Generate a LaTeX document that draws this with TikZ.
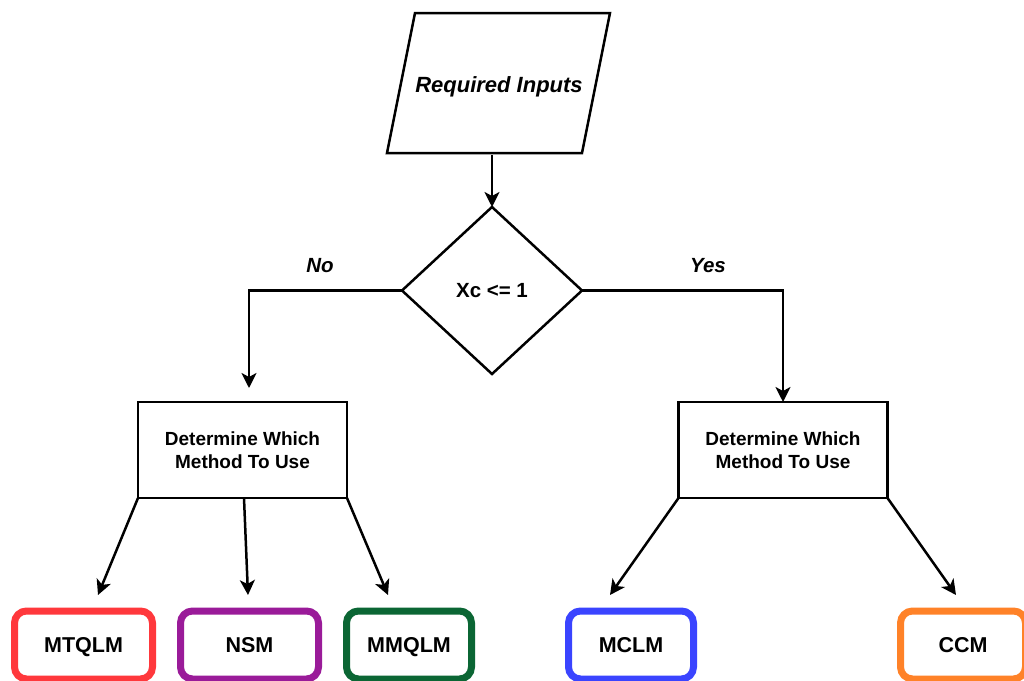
\documentclass[tikz,border=0pt]{standalone}
\usepackage{fontspec}
\setmainfont{Liberation Sans}
\usetikzlibrary{shapes.geometric,arrows.meta,calc}

\definecolor{cRed}{HTML}{FF383C}
\definecolor{cPurple}{HTML}{9A1B99}
\definecolor{cGreen}{HTML}{0B6634}
\definecolor{cBlue}{HTML}{3A44FF}
\definecolor{cOrange}{HTML}{FF8228}

\tikzset{
  flow/.style={line width=2.5pt, draw=black},
  arrowline/.style={flow, -{Stealth[length=15pt,width=15pt,inset=4pt]}},
  capcentred/.style={text height=#1, text depth=0pt},
  decision/.style={flow, diamond, minimum width=180pt, minimum height=167pt,
    inner sep=0pt, outer sep=0pt, aspect=1.08, capcentred=14.7pt,
    font=\bfseries\fontsize{20.5}{24}\selectfont},
  process/.style={flow, rectangle, minimum width=209pt, minimum height=96pt,
    inner sep=0pt, outer sep=0pt, align=center, font=\bfseries\fontsize{19}{22.5}\selectfont},
  method/.style={rectangle, rounded corners=12pt, line width=7pt, fill=white,
    minimum height=68pt, inner sep=0pt, outer sep=0pt, capcentred=15.4pt,
    font=\bfseries\fontsize{21.5}{24}\selectfont},
  branchlabel/.style={capcentred=14.7pt, font=\bfseries\itshape\fontsize{20.5}{24}\selectfont}
}

\begin{document}
\begin{tikzpicture}[x=1pt,y=-1pt]
  \useasboundingbox[fill=white] (0,0) rectangle (1024,680);

  % input parallelogram
  \node[minimum width=195pt, minimum height=140pt, inner sep=0pt, outer sep=0pt, capcentred=15.75pt,
        font=\bfseries\itshape\fontsize{22}{26}\selectfont] (inp) at (499,85) {Required Inputs};
  \draw[flow, line join=miter] (415,13) -- (610,13) -- (582,153) -- (387,153) -- cycle;

  % decision
  \node[decision] (dia) at (492,290.5) {Xc <= 1};
  \draw[arrowline] (inp.south -| dia.north) -- (dia.north);

  % method selection boxes
  \node[process] (ldet) at (242.5,450) {Determine Which\\Method To Use};
  \node[process] (rdet) at (783,450) {Determine Which\\Method To Use};

  \coordinate (ltip) at (249,388);
  \draw[arrowline] (dia.west) -| (ltip);
  \draw[arrowline] (dia.east) -| (rdet.north);

  \node[branchlabel] (no) at (320,265) {No};
  \node[branchlabel] (yes) at (708,265) {Yes};

  % methods
  \node[method, draw=cRed,    minimum width=138pt] (mtqlm) at (83.5,645)  {MTQLM};
  \node[method, draw=cPurple, minimum width=138pt] (nsm)   at (249.5,645) {NSM};
  \node[method, draw=cGreen,  minimum width=125pt] (mmqlm) at (409,645)   {MMQLM};
  \node[method, draw=cBlue,   minimum width=125pt] (mclm)  at (631,645)   {MCLM};
  \node[method, draw=cOrange, minimum width=125pt] (ccm)   at (963,645)   {CCM};

  \coordinate (t1) at (98,595);
  \coordinate (t2) at (248,595);
  \coordinate (t3) at (388,595);
  \coordinate (t4) at (610,595);
  \coordinate (t5) at (956,595);
  \coordinate (lmid) at (244,498);

  \draw[arrowline] (ldet.south west) -- (t1);
  \draw[arrowline] (lmid) -- (t2);
  \draw[arrowline] (ldet.south east) -- (t3);
  \draw[arrowline] (rdet.south west) -- (t4);
  \draw[arrowline] (rdet.south east) -- (t5);
\end{tikzpicture}
\end{document}
